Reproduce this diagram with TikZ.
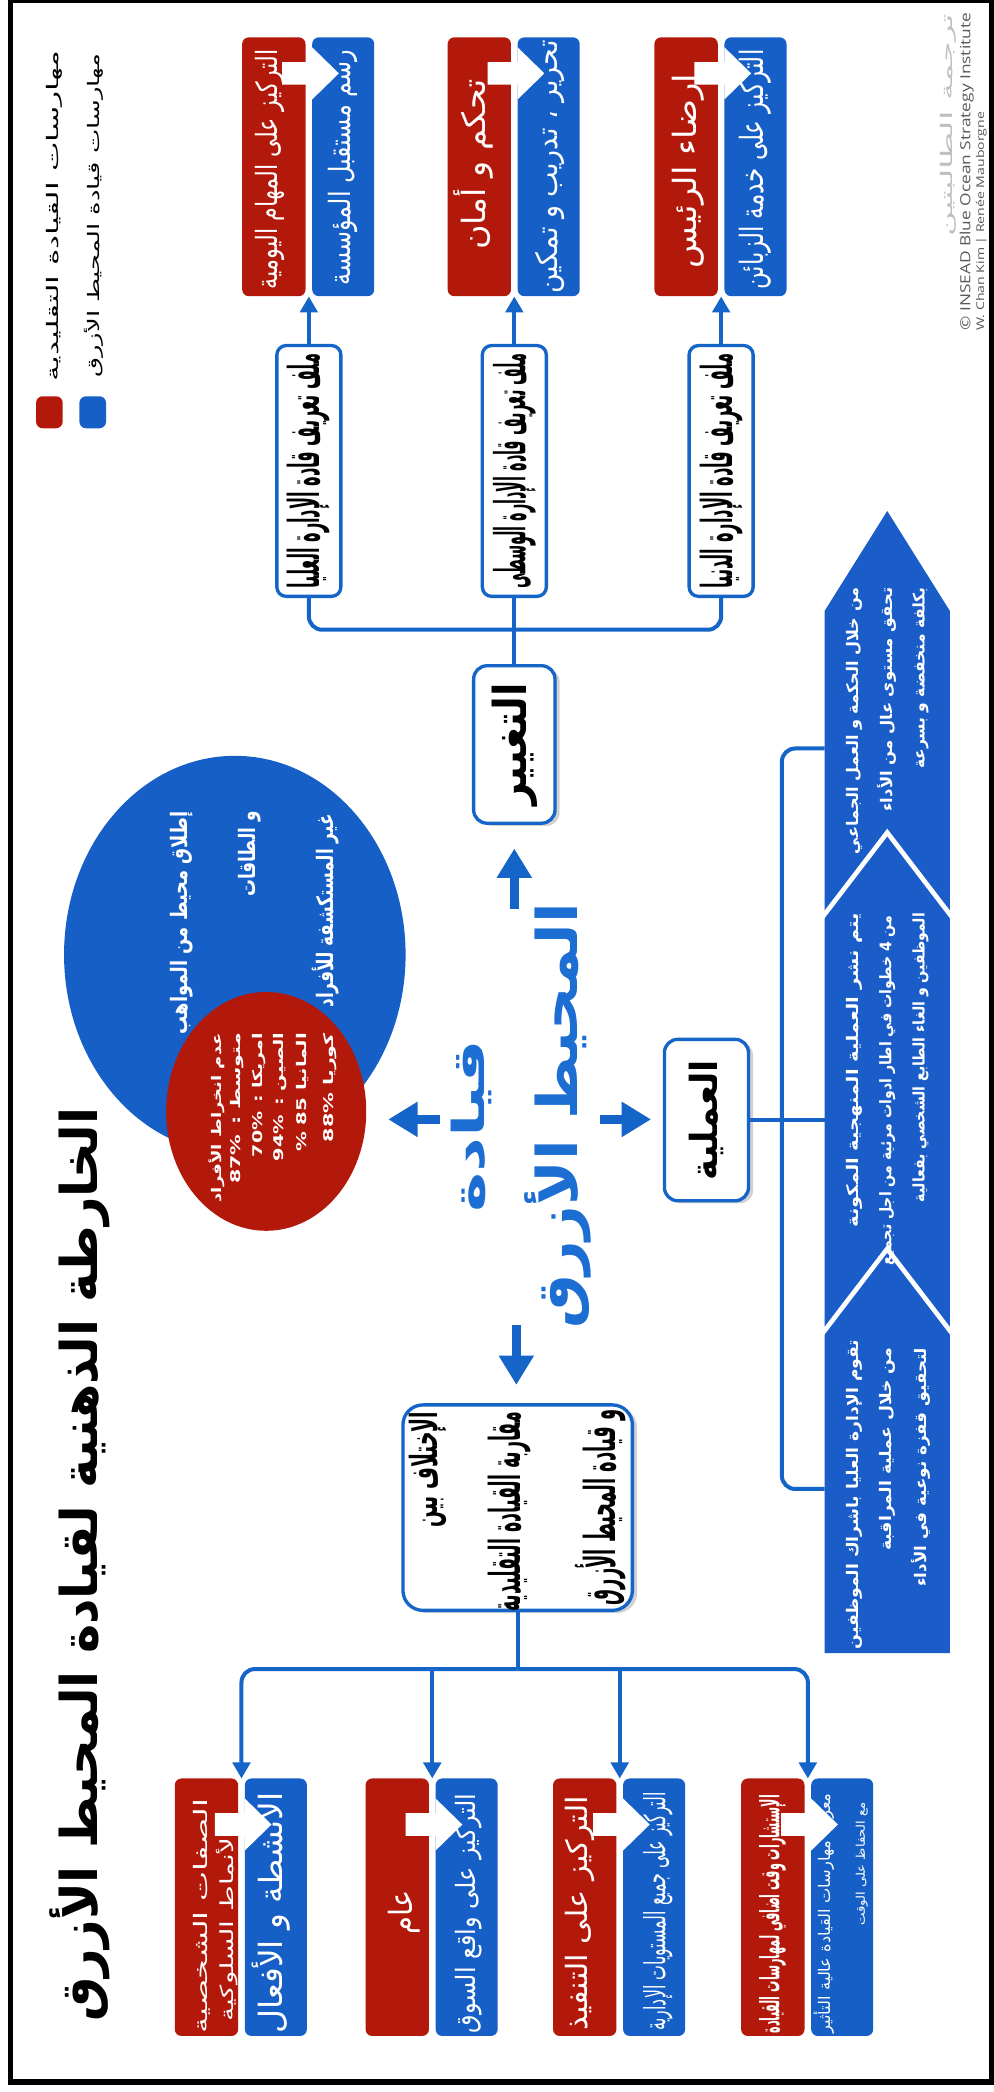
\documentclass[tikz,border=0pt]{standalone}
\usepackage{fontspec}
\usepackage{graphicx}
\usetikzlibrary{arrows.meta,shapes.geometric,shadows}
\TeXXeTstate=1
\newfontfamily\arabicfont[Script=Arabic]{DejaVu Sans}
\newfontfamily\latinfont{Open Sans}
\newcommand{\FW}[3]{\fontsize{#1}{#1}\selectfont\resizebox{#2pt}{\height}{\arabicfont #3}}
\newcommand{\FWB}[3]{\fontsize{#1}{#1}\selectfont\resizebox{#2pt}{\height}{\arabicfont\bfseries #3}}
\definecolor{rd}{HTML}{B3190B}
\definecolor{bl}{HTML}{155FC6}
\definecolor{cb}{HTML}{1565C8}
\definecolor{ct}{HTML}{1D6ED2}
\definecolor{bn}{HTML}{1A5CC8}
\newcommand{\mkpair}[5]{%
  \node[rbox, minimum width=47.5pt, minimum height={#4-#3}] (#1r) at ({#2-26.25},{(#3+#4)/2}) {};
  \node[bbox, minimum width=46.5pt, minimum height={#4-#3}] (#1b) at ({#2+25.75},{(#3+#4)/2}) {};
  \fill[white] ({#2-20},{#5-8.5}) -- ({#2+2.5},{#5-8.5}) -- ({#2+2.5},{#5-19.5}) -- ({#2+22.5},{#5}) -- ({#2+2.5},{#5+19.5}) -- ({#2+2.5},{#5+8.5}) -- ({#2-20},{#5+8.5}) -- cycle;
}
\begin{document}
\begin{tikzpicture}[x=1pt,y=-1pt,
  conn/.style={draw=cb, line width=3pt},
  carr/.style={conn, -{Triangle[width=13pt,length=12pt]}},
  bigarr/.style={draw=cb, line width=6.5pt, -{Triangle[width=25pt,length=22pt]}},
  wbox/.style={draw=cb, line width=2.5pt, fill=white, rounded corners=8pt, inner sep=0pt},
  shbox/.style={wbox, drop shadow={shadow xshift=3.5pt, shadow yshift=-2pt, fill=black, opacity=0.18}},
  rbox/.style={fill=rd, rounded corners=5pt, inner sep=0pt},
  bbox/.style={fill=bl, rounded corners=5pt, inner sep=0pt},
  rt/.style={rotate=90, inner sep=0pt},
]
\useasboundingbox (0,0) rectangle (745,1568);
\fill[white] (0,0) rectangle (745,1568);
% frame
\draw[line width=4pt] (8,0.5) rectangle (743,1560.5);

% title
\node[rt] (title) at (60,1172.5) {\FWB{38}{685}{\beginR الخارطة الذهنية لقيادة المحيط الأزرق\endR}};

% legend
\node[rbox, minimum width=20pt, minimum height=24pt] (lgr) at (37,309) {};
\node[bbox, minimum width=20pt, minimum height=24pt] (lgb) at (69.5,309) {};
\node[rt, anchor=east] (lgrt) at (41,37.5) {\FW{12}{248}{\beginR مهارسات القيادة التقليدية\endR}};
\node[rt, anchor=east] (lgbt) at (70.5,40) {\FW{12}{243}{\beginR مهارسات قيادة المحيط الأزرق\endR}};

% credits
\node[rt, anchor=east, text=black!25] (cr1) at (711,10) {\FW{12}{167}{\beginR ترجمة الطالبتين\endR}};
\node[rt, anchor=west, text=black!65] (cr2) at (724.5,248) {\resizebox{238pt}{\height}{\fontsize{10.5}{10.5}\latinfont © INSEAD Blue Ocean Strategy Institute}};
\node[rt, anchor=west, text=black!65] (cr3) at (735.5,248) {\resizebox{164pt}{\height}{\fontsize{8}{8}\latinfont W. Chan Kim | Renée Mauborgne}};

% top pairs
\mkpair{tA}{231.5}{28}{222}{55}
\mkpair{tB}{385.5}{28}{222}{55}
\mkpair{tC}{540.5}{28}{222}{55}
\node[rt, anchor=east, text=white] (tArt) at (202,37) {\FW{22}{180}{\beginR التركيز على المهام اليومية\endR}};
\node[rt, anchor=east, text=white] (tAbt) at (257,37) {\FW{22}{177}{\beginR رسم مستقبل المؤسسة\endR}};
\node[rt, anchor=east, text=white] (tBrt) at (355,59) {\FW{24}{128}{\beginR تحكم و أمان\endR}};
\node[rt, anchor=east, text=white] (tBbt) at (412,30) {\FW{22}{190}{\beginR تحرير ، تدريب و تمكين\endR}};
\node[rt, anchor=east, text=white] (tCrt) at (516,55) {\FW{24}{146}{\beginR إرضاء الرئيس\endR}};
\node[rt, anchor=east, text=white] (tCbt) at (566,37) {\FW{24}{180}{\beginR التركيز على خدمة الزبائن\endR}};

% profile boxes
\node[wbox, minimum width=48pt, minimum height=188pt, rounded corners=7pt] (pA) at (231.5,353) {};
\node[wbox, minimum width=48pt, minimum height=188pt, rounded corners=7pt] (pB) at (385.5,353) {};
\node[wbox, minimum width=48pt, minimum height=188pt, rounded corners=7pt] (pC) at (540.5,353) {};
\node[rt] (pAt) at (pA) {\FWB{32}{176}{\beginR ملف تعريف قادة الإدارة العليا\endR}};
\node[rt] (pBt) at (pB) {\FWB{32}{176}{\beginR ملف تعريف قادة الإدارة الوسطى\endR}};
\node[rt] (pCt) at (pC) {\FWB{32}{176}{\beginR ملف تعريف قادة الإدارة الدنيا\endR}};
\draw[carr] (pA.north) -- (pA.north |- tAr.south);
\draw[carr] (pB.north) -- (pB.north |- tBr.south);
\draw[carr] (pC.north) -- (pC.north |- tCr.south);

% change box
\node[shbox, minimum width=61pt, minimum height=118pt, rounded corners=10pt] (tg) at (385.5,558) {};
\node[rt] (tgt) at (tg) {\FWB{34}{92}{\beginR التغيير\endR}};
\coordinate (hT) at (385.5,472);
\draw[conn, rounded corners=10pt] (pA.south) -- (pA.south |- hT) -- (pC.south |- hT) -- (pC.south);
\draw[conn] (pB.south) -- (tg.north);

% centre text
\node[rt, text=ct] (c1) at (353,844) {\FWB{33}{130}{\beginR قيادة\endR}};
\node[rt, text=ct] (c2) at (418,836.5) {\FWB{42}{319}{\beginR المحيط الأزرق\endR}};

% circles
\node[ellipse, fill=bl, minimum width=256pt, minimum height=298pt, inner sep=0pt] (bc) at (176,715.5) {};
\node[ellipse, fill=rd, minimum width=150pt, minimum height=179pt, inner sep=0pt] (rc) at (199.5,833) {};
\node[rt, anchor=east, text=white] (bc1) at (136,608) {\FWB{17}{167}{\beginR إطلاق محيط من المواهب\endR}};
\node[rt, anchor=east, text=white] (bc2) at (187,608) {\FWB{17}{64}{\beginR و الطاقات\endR}};
\node[rt, anchor=east, text=white] (bc3) at (244,610) {\FWB{17}{145}{\beginR غير المستكشفة للأفراد\endR}};
\node[rt, anchor=east, text=white] (rc1) at (162.5,774) {\FWB{10}{127}{\beginR عدم انخراط الأفراد\endR}};
\node[rt, anchor=east, text=white] (rc2) at (178,774) {\FWB{10}{113}{\beginR متوسط : \beginL 87\%\endL\endR}};
\node[rt, anchor=east, text=white] (rc3) at (194.5,774) {\FWB{10}{93}{\beginR امريكا : \beginL 70\%\endL\endR}};
\node[rt, anchor=east, text=white] (rc4) at (210,774) {\FWB{10}{96}{\beginR الصين : \beginL 94\%\endL\endR}};
\node[rt, anchor=east, text=white] (rc5) at (227,774) {\FWB{10}{89}{\beginR المانيا \beginL 85\endL{} \%\endR}};
\node[rt, anchor=east, text=white] (rc6) at (247.5,774) {\FWB{10}{82}{\beginR كوريا \beginL 88\%\endL\endR}};

% process box
\node[shbox, minimum width=63pt, minimum height=121pt, rounded corners=10pt] (am) at (529.5,839.5) {};
\node[rt] (amt) at (am) {\FWB{28}{90}{\beginR العملية\endR}};

% difference box
\node[shbox, minimum width=172pt, minimum height=154pt, rounded corners=15pt] (ik) at (388,1130) {};
\node[rt, anchor=east] (ik1) at (321,1058) {\FWB{28}{87}{\beginR الإختلاف بين\endR}};
\node[rt, anchor=east] (ik2) at (382,1058) {\FWB{32}{150}{\beginR مقاربة القيادة التقليدية\endR}};
\node[rt, anchor=east] (ik3) at (450,1056) {\FWB{32}{147}{\beginR و قيادة المحيط الأزرق\endR}};

% big arrows
\coordinate (cU) at (385.5,681); \coordinate (cL) at (330,839);
\coordinate (cR) at (450,839);   \coordinate (cD) at (387,993);
\coordinate (cU2) at (385.5,636); \coordinate (cL2) at (291,839);
\coordinate (cR2) at (488,839);   \coordinate (cD2) at (387,1038);
\draw[bigarr] (cU) -- (cU2);
\draw[bigarr] (cL) -- (cL2);
\draw[bigarr] (cR) -- (cR2);
\draw[bigarr] (cD) -- (cD2);

% banner
\fill[bn] (618,458) -- (665,383) -- (712,458) -- (712,1239) -- (618,1239) -- cycle;
\draw[white, line width=3.5pt] (616,688) -- (665,624) -- (714,688);
\draw[white, line width=3.5pt] (616,1000) -- (665,936) -- (714,1000);
\node[rt, anchor=east, text=white] (s11) at (640,440) {\FWB{12}{200}{\beginR من خلال الحكمة و العمل الجماعي\endR}};
\node[rt, anchor=east, text=white] (s12) at (665,440) {\FWB{12}{168}{\beginR تحقق مستوى عال من الأداء\endR}};
\node[rt, anchor=east, text=white] (s13) at (690,440) {\FWB{12}{136}{\beginR بكلفة منخفضة و بسرعة\endR}};
\node[rt, anchor=east, text=white] (s21) at (640,684) {\FWB{12}{236}{\beginR يتم نشر العملية المنهجية المكونة\endR}};
\node[rt, anchor=east, text=white] (s22) at (665,686) {\FWB{12}{262}{\beginR من \beginL 4\endL{} خطوات في اطار ادوات مرئية من اجل تجميع\endR}};
\node[rt, anchor=east, text=white] (s23) at (690,684) {\FWB{12}{217}{\beginR الموظفين و الغاء الطابع الشخصي بفعالية\endR}};
\node[rt, anchor=east, text=white] (s31) at (640,1004) {\FWB{12}{232}{\beginR تقوم الإدارة العليا باشراك الموظفين\endR}};
\node[rt, anchor=east, text=white] (s32) at (665,1010) {\FWB{12}{152}{\beginR من خلال عملية المراقبة\endR}};
\node[rt, anchor=east, text=white] (s33) at (690,1010) {\FWB{12}{179}{\beginR لتحقيق قفزة نوعية في الأداء\endR}};
\coordinate (brT) at (618,561); \coordinate (brB) at (618,1116);
\coordinate (brT2) at (586,561); \coordinate (brB2) at (586,1116);
\draw[conn, rounded corners=10pt] (brT) -- (brT2) -- (brB2) -- (brB);
\draw[conn] (am.east) -- (am.east -| brT);

% bottom connectors
\coordinate (hB) at (388,1251);
\coordinate (b1) at (181,1333); \coordinate (b2) at (324,1333);
\coordinate (b3) at (464.5,1333); \coordinate (b4) at (605.5,1333);
\draw[conn] (ik.south) -- (hB);
\draw[carr, rounded corners=10pt] (hB) -| (b1);
\draw[carr, rounded corners=10pt] (hB) -| (b4);
\draw[carr] (b2 |- hB) -- (b2);
\draw[carr] (b3 |- hB) -- (b3);

% bottom pairs
\mkpair{bA}{181}{1333}{1526}{1367.5}
\mkpair{bB}{324}{1333}{1526}{1367.5}
\mkpair{bC}{464.5}{1333}{1526}{1367.5}
\mkpair{bD}{605.5}{1333}{1526}{1367.5}
\node[rt, anchor=east, text=white] (bAr1) at (151,1348) {\FW{14}{176}{\beginR الصفات الشخصية\endR}};
\node[rt, anchor=east, text=white] (bAr2) at (170,1377) {\FW{13.5}{138}{\beginR لأنماط السلوكية\endR}};
\node[rt, anchor=east, text=white] (bAbt) at (203,1343) {\FW{24}{181}{\beginR الأنشطة و الأفعال\endR}};
\node[rt, text=white] (bBrt) at (303,1433.5) {\FW{24}{33}{\beginR عام\endR}};
\node[rt, anchor=east, text=white] (bBbt) at (351,1344) {\FW{20}{180}{\beginR التركيز على واقع السوق\endR}};
\node[rt, anchor=east, text=white] (bCrt) at (435,1346) {\FW{22}{176}{\beginR التركيز على التنفيذ\endR}};
\node[rt, anchor=east, text=white] (bCbt) at (493,1343) {\FW{22}{179}{\beginR التركيز على جميع المستويات الإدارية\endR}};
\node[rt, anchor=east, text=white] (bDrt) at (579,1345) {\FWB{20}{179}{\beginR الإستشارات وقت اضافي لمهارسات القيادة\endR}};
\node[rt, anchor=east, text=white] (bDb1) at (617.5,1344) {\FW{12}{180}{\beginR معرفة مهارسات القيادة عالية التأثير\endR}};
\node[rt, anchor=east, text=white] (bDb2) at (646,1351) {\FW{9}{92}{\beginR مع الحفاظ على الوقت\endR}};
\end{tikzpicture}
\end{document}
